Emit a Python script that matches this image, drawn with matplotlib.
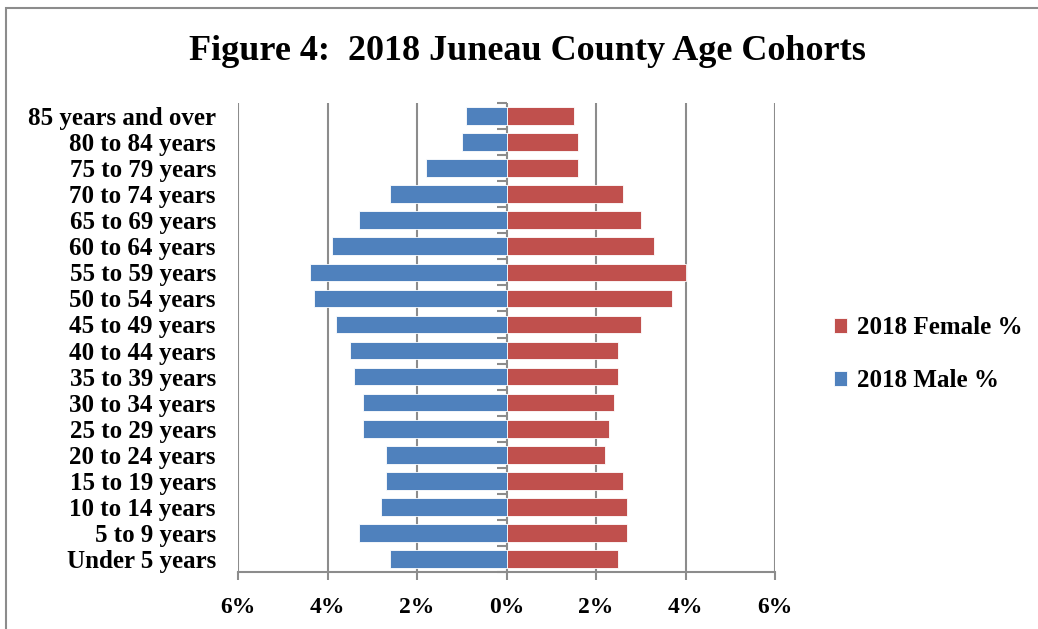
import matplotlib
matplotlib.use("Agg")
import matplotlib.pyplot as plt
from matplotlib.patches import Rectangle

categories = ["Under 5 years", "5 to 9 years", "10 to 14 years", "15 to 19 years",
              "20 to 24 years", "25 to 29 years", "30 to 34 years", "35 to 39 years",
              "40 to 44 years", "45 to 49 years", "50 to 54 years", "55 to 59 years",
              "60 to 64 years", "65 to 69 years", "70 to 74 years", "75 to 79 years",
              "80 to 84 years", "85 years and over"]
female_pct = [2.5, 2.7, 2.7, 2.6, 2.2, 2.3, 2.4, 2.5, 2.5, 3.0, 3.7, 4.0,
              3.3, 3.0, 2.6, 1.6, 1.6, 1.5]
male_pct = [2.6, 3.3, 2.8, 2.7, 2.7, 3.2, 3.2, 3.4, 3.5, 3.8, 4.3, 4.4,
            3.9, 3.3, 2.6, 1.8, 1.0, 0.9]
x_ticks = [-6, -4, -2, 0, 2, 4, 6]
x_tick_labels = ["6%", "4%", "2%", "0%", "2%", "4%", "6%"]
title = "Figure 4:  2018 Juneau County Age Cohorts"

FONT = "Liberation Serif"
BLUE = "#4F81BD"
RED = "#C0504D"
GRID = "#8C8C8C"

W, H = 1038, 629
fig = plt.figure(figsize=(W / 100, H / 100), dpi=100)
ax = fig.add_axes([238 / W, 1 - 572 / H, (775 - 238) / W, (572 - 103) / H])

ypos = list(range(len(categories)))
ax.barh(ypos, female_pct, height=0.68, color=RED, edgecolor="white",
        linewidth=0.6, label="2018 Female %", zorder=3)
ax.barh(ypos, [-v for v in male_pct], height=0.68, color=BLUE, edgecolor="white",
        linewidth=0.6, label="2018 Male %", zorder=3)

ax.set_xlim(-6, 6)
ax.set_ylim(-0.5, len(categories) - 0.5)
ax.set_xticks(x_ticks)
ax.set_xticklabels(x_tick_labels, fontfamily=FONT, fontweight="bold", fontsize=17)
ax.set_yticks(ypos)
ax.set_yticklabels(categories, fontfamily=FONT, fontweight="bold", fontsize=18)
ax.tick_params(axis="y", length=0, pad=16)
ax.tick_params(axis="x", length=6, width=1.5, color=GRID, direction="out", pad=12)

for x in x_ticks:
    ax.axvline(x, color=GRID, linewidth=1.5, zorder=1)

for s in ["top", "right", "left"]:
    ax.spines[s].set_visible(False)
ax.spines["bottom"].set_color(GRID)
ax.spines["bottom"].set_linewidth(1.5)

# category-separator ticks on the zero axis
for b in [i - 0.5 for i in range(len(categories) + 1)]:
    ax.plot([-0.22, 0], [b, b], color=GRID, linewidth=1.5, zorder=2,
            solid_capstyle="butt", clip_on=False)

fig.text(527 / W, 1 - 51 / H, title, ha="center", va="center",
         fontfamily=FONT, fontweight="bold", fontsize=26)

handles, labels = ax.get_legend_handles_labels()
leg = fig.legend(handles, labels, loc="center left",
                 bbox_to_anchor=(811 / W, 1 - 354 / H), frameon=False,
                 prop={"family": FONT, "weight": "bold", "size": 18},
                 handlelength=0.55, handleheight=0.55, handletextpad=0.4,
                 labelspacing=1.2)

# outer chart border (left and top visible)
fig.patches.append(Rectangle((6 / W, -0.1), 1.2, 1 - 8 / H + 0.1,
                             transform=fig.transFigure, fill=False,
                             edgecolor="#8C8C8C", linewidth=1.5))

fig.savefig("out.png", dpi=100)
